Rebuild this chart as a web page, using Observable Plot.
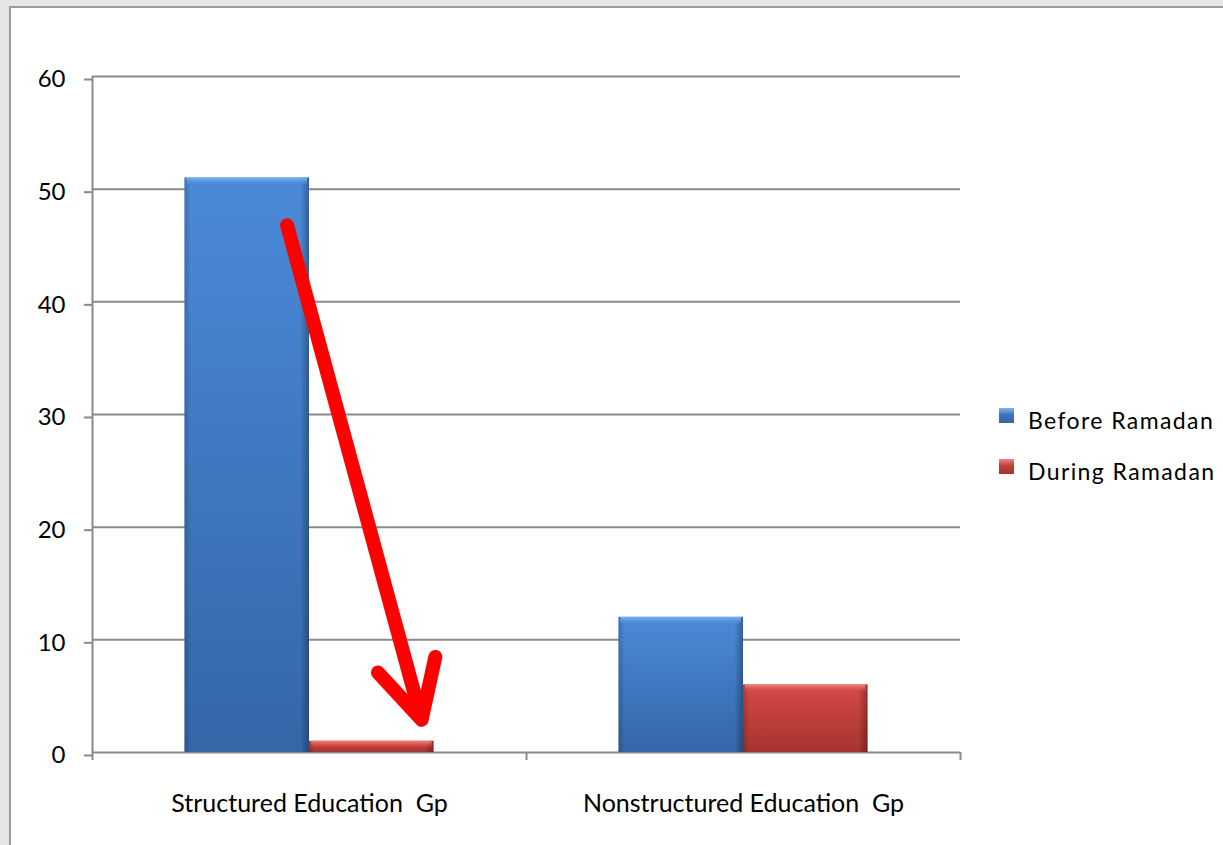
<!DOCTYPE html>
<html>
<head>
<meta charset="utf-8">
<script src="https://cdn.jsdelivr.net/npm/d3@7"></script>
<script src="https://cdn.jsdelivr.net/npm/@observablehq/plot@0.6"></script>
<style>
  html, body { margin: 0; padding: 0; width: 1223px; height: 845px; overflow: hidden; background: #e6e6e6; font-family: Lato, sans-serif; }
  #frame { position: absolute; left: 9px; top: 6px; width: 1214px; height: 839px; background: #fff;
           border-top: 2px solid #9c9c9c; border-left: 2px solid #9c9c9c; box-sizing: border-box; }
  #chart { position: absolute; left: 0; top: 0; }
  .legend { position: absolute; left: 999px; font-family: Lato, sans-serif; font-size: 23px; letter-spacing: 1.4px; color: #000; }
  .legend .item { position: absolute; left: 0; white-space: nowrap; height: 16px; }
  .legend .swatch { position: absolute; left: 0; top: 0; width: 15px; height: 15px; }
  .legend .label { position: absolute; left: 29px; top: -2px; line-height: 28px; }
</style>
</head>
<body>
<div id="frame"></div>
<div id="chart"></div>
<div class="legend" id="legend"></div>
<script>
// Groups, series and values
const groups = ["Structured Education\u00a0 Gp", "Nonstructured Education\u00a0 Gp"];
const seriesNames = ["Before Ramadan", "During Ramadan"];
const beforeValues = [51, 12];
const duringValues = [1, 6];
const yTicks = [0, 10, 20, 30, 40, 50, 60];

// Series colours (gradient stops: top, bottom, highlight)
const seriesColors = {
  "Before Ramadan": {id: "gBefore", top: "#4b8ad8", bottom: "#3566a8", light: "#7ab7ef", swatch: "#3d73bd"},
  "During Ramadan": {id: "gDuring", top: "#d44a46", bottom: "#a6332f", light: "#f08583", swatch: "#c0403c"}
};

// Each group occupies one unit on x; bars sit side by side around its centre
const PAD = 0.213;
const bars = groups.flatMap((g, i) => [
  {group: g, series: seriesNames[0], value: beforeValues[i], x1: i + PAD, x2: i + 0.5},
  {group: g, series: seriesNames[1], value: duringValues[i], x1: i + 0.5, x2: i + 1 - PAD}
]);

// Annotation arrow: from the "before" bar down to the "during" bar of the first group
const arrowData = [{
  x1: bars[0].x1 + 0.82 * (bars[0].x2 - bars[0].x1),
  y1: beforeValues[0] - 4.2,
  x2: bars[1].x1 + 0.9 * (bars[1].x2 - bars[1].x1),
  y2: duringValues[0] + 1.9
}];

const gridColor = "#8a8a8a";
const bevel = 0.6;

const barMarks = seriesNames.flatMap(s => {
  const c = seriesColors[s];
  const data = bars.filter(d => d.series === s);
  return [
    Plot.rectY(data, {x1: "x1", x2: "x2", y1: 0, y2: "value", fill: `url(#${c.id})`}),
    Plot.rectY(data, {x1: "x1", x2: "x2", y1: 0, y2: "value", fill: "url(#edgeShade)"}),
    Plot.rectY(data, {x1: "x1", x2: "x2", y1: d => Math.max(d.value - bevel, d.value * 0.5), y2: "value",
                      fill: `url(#${c.id}Light)`, insetLeft: 2, insetRight: 2})
  ];
});

const chart = Plot.plot({
  width: 1223,
  height: 845,
  marginLeft: 92,
  marginRight: 263,
  marginTop: 76,
  marginBottom: 93,
  style: {background: "transparent", fontFamily: "Lato, sans-serif", color: "#000", overflow: "visible"},
  x: {type: "linear", domain: [0, 2]},
  y: {type: "linear", domain: [0, 60]},
  marks: [
    Plot.ruleY(yTicks, {x1: 0, x2: 2, stroke: gridColor, strokeWidth: 2}),
    Plot.axisY(yTicks, {tickSize: 8, tickPadding: 19, stroke: gridColor, strokeWidth: 2, fill: "#000",
                        fontSize: 24, dy: 3}),
    Plot.ruleX([0], {y1: 0, y2: 60, stroke: gridColor, strokeWidth: 2}),
    Plot.axisX([0, 1, 2], {tickSize: 8, stroke: gridColor, strokeWidth: 2, tickFormat: () => ""}),
    ...barMarks,
    Plot.text(groups, {x: (d, i) => i + 0.5, y: 0, text: d => d, dy: 51, fontSize: 25, fill: "#000"}),
    Plot.arrow(arrowData, {x1: "x1", y1: "y1", x2: "x2", y2: "y2", stroke: "#ff0000", strokeWidth: 14,
                           headLength: 6.9, headAngle: 55})
  ]
});

// Gradients used by the bars
const defs = `
<defs>
  ${seriesNames.map(s => {
    const c = seriesColors[s];
    return `
  <linearGradient id="${c.id}" x1="0" y1="0" x2="0" y2="1">
    <stop offset="0" stop-color="${c.top}"/><stop offset="1" stop-color="${c.bottom}"/>
  </linearGradient>
  <linearGradient id="${c.id}Light" x1="0" y1="0" x2="0" y2="1">
    <stop offset="0" stop-color="${c.light}"/><stop offset="1" stop-color="${c.top}" stop-opacity="0.4"/>
  </linearGradient>`;
  }).join("")}
  <linearGradient id="edgeShade" x1="0" y1="0" x2="1" y2="0">
    <stop offset="0" stop-color="#000" stop-opacity="0.18"/>
    <stop offset="0.05" stop-color="#000" stop-opacity="0"/>
    <stop offset="0.93" stop-color="#000" stop-opacity="0"/>
    <stop offset="1" stop-color="#000" stop-opacity="0.3"/>
  </linearGradient>
</defs>`;
chart.insertAdjacentHTML("afterbegin", defs);
document.getElementById("chart").appendChild(chart);

// Legend
const legend = document.getElementById("legend");
seriesNames.forEach((s, i) => {
  const item = document.createElement("div");
  item.className = "item";
  item.style.top = (408 + i * 51) + "px";
  item.innerHTML = `<div class="swatch" style="background:linear-gradient(${seriesColors[s].light}, ${seriesColors[s].swatch} 45%, ${seriesColors[s].bottom})"></div><div class="label">${s}</div>`;
  legend.appendChild(item);
});
</script>
</body>
</html>
